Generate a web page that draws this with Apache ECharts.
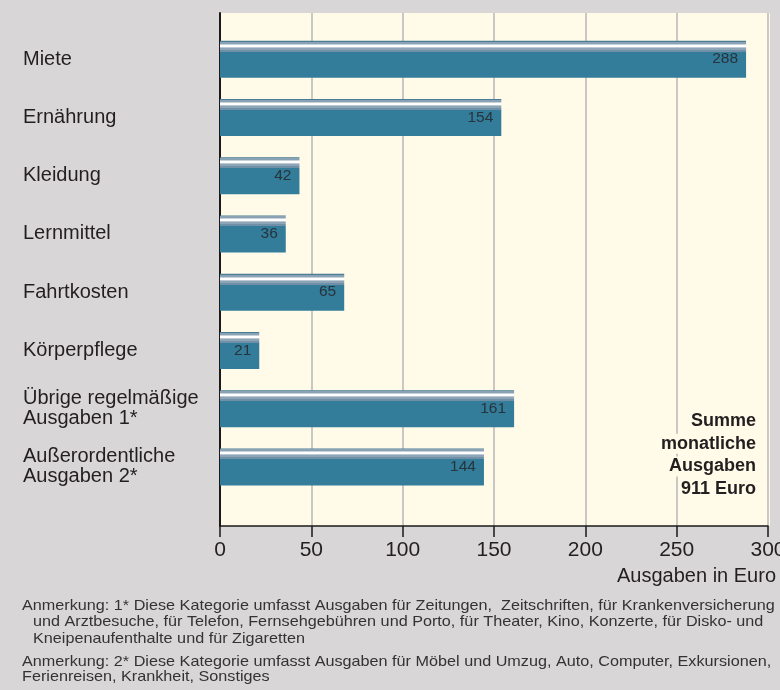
<!DOCTYPE html>
<html>
<head>
<meta charset="utf-8">
<script src="https://cdn.jsdelivr.net/npm/echarts@6/dist/echarts.min.js"></script>
<style>
html,body{margin:0;padding:0;background:#d8d6d7;}
#chart{width:780px;height:690px;}
</style>
</head>
<body>
<div id="chart"></div>
<script>
// ---- data ----
const categories = ['Miete', 'Ernährung', 'Kleidung', 'Lernmittel', 'Fahrtkosten', 'Körperpflege', 'Übrige regelmäßige\nAusgaben 1*', 'Außerordentliche\nAusgaben 2*'];
const barValues = [288, 154, 43.5, 36, 68, 21.5, 161, 144.5];   // bar lengths as drawn
const labelValues = [288, 154, 42, 36, 65, 21, 161, 144];        // printed values
const xTicks = [0, 50, 100, 150, 200, 250, 300];
const axisTitle = 'Ausgaben in Euro';
const summaryLines = ['Summe', 'monatliche', 'Ausgaben', '911 Euro'];
const note1 = ['Anmerkung: 1* Diese Kategorie umfasst Ausgaben für Zeitungen,  Zeitschriften, für Krankenversicherung',
  'und Arztbesuche, für Telefon, Fernsehgebühren und Porto, für Theater, Kino, Konzerte, für Disko- und',
  'Kneipenaufenthalte und für Zigaretten'];
const note2 = ['Anmerkung: 2* Diese Kategorie umfasst Ausgaben für Möbel und Umzug, Auto, Computer, Exkursionen,',
  'Ferienreisen, Krankheit, Sonstiges'];

const FONT = '"Liberation Sans", Arial, sans-serif';
const CREAM = '#fffbe8';
const chart = echarts.init(document.getElementById('chart'));

const barGradient = new echarts.graphic.LinearGradient(0, 0, 0, 1, [
  {offset: 0, color: '#4a7d94'}, {offset: 0.027, color: '#4a7d94'},
  {offset: 0.027, color: '#8aa2b5'}, {offset: 0.081, color: '#8aa2b5'},
  {offset: 0.081, color: '#c8d2da'}, {offset: 0.108, color: '#c8d2da'},
  {offset: 0.108, color: '#ffffff'}, {offset: 0.162, color: '#ffffff'},
  {offset: 0.162, color: '#bcc8d3'}, {offset: 0.189, color: '#bcc8d3'},
  {offset: 0.189, color: '#8ea5b8'}, {offset: 0.243, color: '#8ea5b8'},
  {offset: 0.243, color: '#6f90a7'}, {offset: 0.297, color: '#6f90a7'},
  {offset: 0.297, color: '#337c9a'}, {offset: 1, color: '#337c9a'}
]);

const graphics = [];
graphics.push({type: 'rect', left: 768, top: 13, z: -10, silent: true,
  shape: {width: 2, height: 513}, style: {fill: CREAM}});
summaryLines.forEach((t, i) => {
  graphics.push({type: 'text', right: 23, top: 411 + i * 22.7, z: 100,
    style: {text: t, font: 'bold 18px ' + FONT, fill: '#231f20', backgroundColor: CREAM, padding: [1, 1]}});
});
graphics.push({type: 'text', right: 4, top: 566, z: 100,
  style: {text: axisTitle, font: '20px ' + FONT, fill: '#231f20'}});
const noteX = [22, 33, 33];
const noteTop1 = [598, 614.5, 631.5];
note1.forEach((t, i) => {
  graphics.push({type: 'text', x: noteX[i], y: noteTop1[i], scaleX: 1.08, z: 100,
    style: {text: t, font: '15px ' + FONT, fill: '#333', verticalAlign: 'top'}});
});
const noteTop2 = [654, 669.5];
note2.forEach((t, i) => {
  graphics.push({type: 'text', x: 22, y: noteTop2[i], scaleX: 1.08, z: 100,
    style: {text: t, font: '15px ' + FONT, fill: '#333', verticalAlign: 'top'}});
});

chart.setOption({
  backgroundColor: '#d8d6d7',
  animation: false,
  grid: [
    {left: 220, right: 12, top: 13, height: 513, show: true, backgroundColor: CREAM, borderWidth: 0, outerBoundsMode: 'none', containLabel: false},
    {left: 220, right: 12, top: 30, height: 466, outerBoundsMode: 'none', containLabel: false}
  ],
  xAxis: [
    {gridIndex: 0, type: 'value', min: 0, max: 300, interval: 50,
      axisLine: {show: true, lineStyle: {color: '#1a1a1a', width: 1.5}},
      axisTick: {show: true, length: 11, lineStyle: {color: '#1a1a1a', width: 1.5}},
      axisLabel: {fontFamily: FONT, fontSize: 21, color: '#231f20', margin: 14, hideOverlap: false,
        formatter: v => xTicks.includes(v) ? String(v) : ''},
      splitLine: {show: true, lineStyle: {color: '#c9c8c4', width: 2}}},
    {gridIndex: 1, type: 'value', min: 0, max: 300, show: false}
  ],
  yAxis: [
    {gridIndex: 0, type: 'value', min: 0, max: 1,
      axisLine: {show: true, lineStyle: {color: '#1a1a1a', width: 2}},
      axisTick: {show: false}, axisLabel: {show: false}, splitLine: {show: false}},
    {gridIndex: 1, type: 'category', inverse: true, data: categories,
      axisLine: {show: false}, axisTick: {show: false}, splitLine: {show: false},
      axisLabel: {align: 'left', margin: 197, fontFamily: FONT, fontSize: 20, lineHeight: 20, color: '#231f20'}}
  ],
  series: [{
    type: 'bar', xAxisIndex: 1, yAxisIndex: 1, data: barValues, barWidth: 37,
    itemStyle: {color: barGradient},
    label: {show: true, position: 'insideRight', distance: 8, fontFamily: FONT, fontSize: 15.5, color: '#26343c',
      formatter: p => String(labelValues[p.dataIndex])}
  }],
  graphic: graphics
});
</script>
</body>
</html>
